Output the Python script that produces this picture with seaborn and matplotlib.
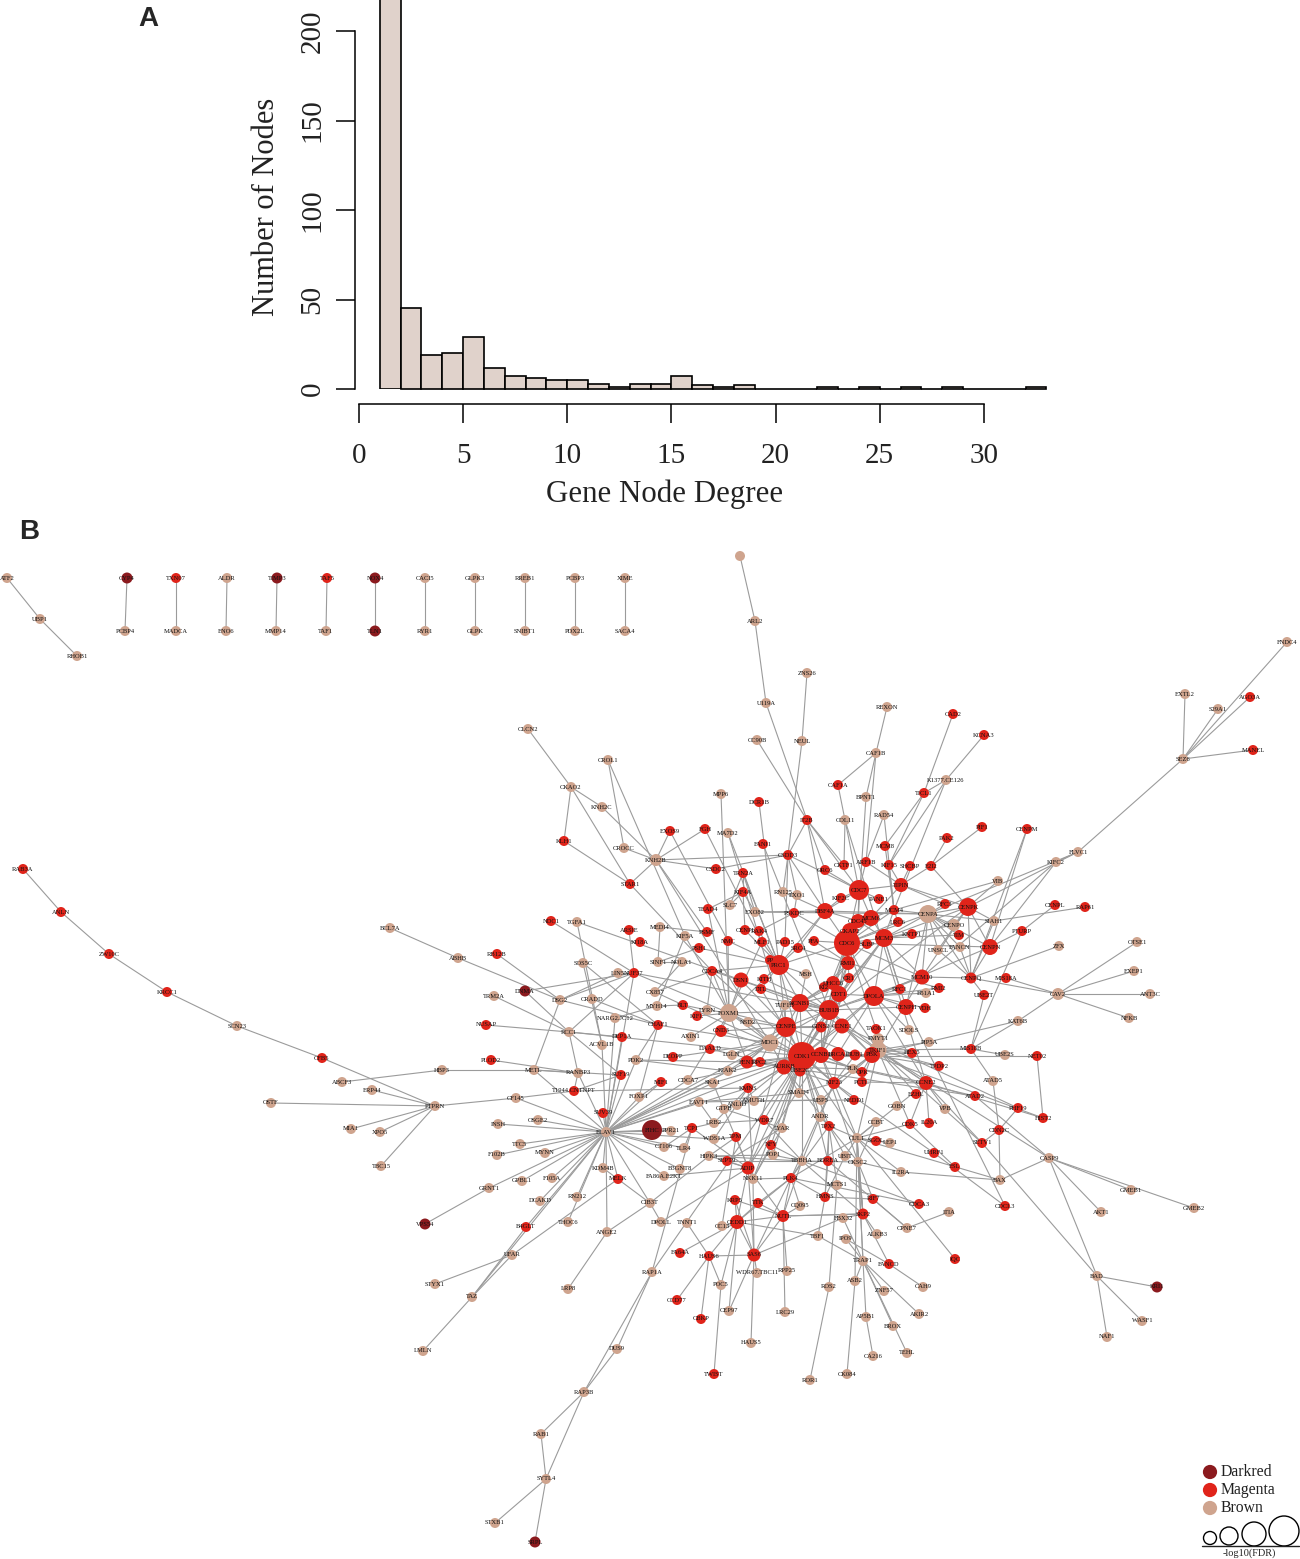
import pandas as pd
import numpy as np
import matplotlib
matplotlib.use('Agg')
import matplotlib.pyplot as plt
from matplotlib.collections import LineCollection
import seaborn as sns

# Panel A: degree histogram
degree_bins = list(range(1, 33))
degree_counts = [218, 45, 19, 20, 29, 12, 7, 6, 5, 5, 3, 1, 3, 3, 7, 2, 1, 2, 0, 0, 0, 1, 0, 1, 0, 1, 0, 1, 0, 0, 0, 1]
x_ticks = [0, 5, 10, 15, 20, 25, 30]
y_ticks = [0, 50, 100, 150, 200]

# Panel B: nodes, positions
magenta_genes = ['CENPK', 'CDC7', 'TIPIN', 'DBF4A', 'CDC45', 'MCM6', 'CKAP2', 'CDC6', 'SLBP', 'MCM3',
                 'CENPN', 'PRC1', 'RMI1', 'DSN1', 'MCM10', 'CENPQ', 'DHCC6', 'CDT1', 'DPOLA', 'NCNB1',
                 'BUB1B', 'CENPH', 'CENPE', 'GINS2', 'CCNE1', 'CND3', 'FEN1', 'AURKB', 'CDK1', 'CCNB1',
                 'BRCA1', 'BUB1', 'PBK', 'UBE2C', 'CCNE2', 'KIF23', 'ADIP', 'NUTL', 'CEDD1', 'SAS6', 'SKP2']
magenta_x = [968, 859, 901, 825, 858, 871, 850, 847, 867, 884,
             990, 779, 848, 741, 922, 971, 833, 839, 874, 800,
             829, 906, 786, 821, 842, 721, 747, 784, 802, 821,
             838, 855, 872, 800, 926, 834, 748, 783, 737, 754, 863]
magenta_y = [907, 890, 885, 911, 921, 918, 931, 943, 944, 938,
             947, 965, 963, 980, 977, 978, 983, 994, 996, 1003,
             1010, 1007, 1027, 1027, 1026, 1031, 1062, 1067, 1056, 1055,
             1054, 1055, 1055, 1071, 1083, 1083, 1168, 1216, 1222, 1255, 1214]
magenta_d = [18, 20, 14, 16, 14, 16, 16, 26, 10, 18,
             16, 20, 14, 15, 15, 11, 14, 16, 20, 18,
             20, 16, 20, 11, 15, 12, 13, 15, 28, 16,
             14, 11, 16, 11, 14, 12, 13, 12, 14, 13, 11]

small_red_genes = ['CSDC2', 'TRN2A', 'CSDD3', 'ORC6', 'CKTF1', 'ARF1B', 'KIF15', 'SHCBP', 'E2I2', 'KIF2C',
                   'PANE1', 'KIF4A', 'TEAD4', 'PSKDC', 'MCM4', 'RFC3', 'LRC6', 'PSMF', 'CENPI', 'RAK4',
                   'NMC', 'MLF1', 'PAD15', 'PFA', 'KNTP1', 'TIM', 'PSH1', 'SRC4', 'PP', 'CDCA4',
                   'KITH', 'MIS18A', 'CR1', 'KI2', 'DTL', 'RFC1', 'RMI2', 'BLT', 'KIFL', 'VDH',
                   'CHAF1', 'TAOK1', 'HEX5', 'DAALD', 'DEOPP', 'RPC2', 'MIF1', 'KMNS', 'OPK', 'PCTL',
                   'TPDP2', 'NEDD1', 'EZHL', 'WDR7', 'TPX2', 'CDK5', 'IL20A', 'TCP1', 'SGOL', 'UHRF1',
                   'TPM', 'NFY', 'SEPT9', 'BOREA', 'PLK4', 'HMNS', 'RIF7', 'CDCA3', 'KRP5', 'TTK',
                   'FA64A', 'HAUS6', 'FANCD', 'CCD77', 'CBKP', 'TWIST', 'IQC', 'CDCL3', 'ESL', 'SETV1',
                   'CDN2C', 'HIST2', 'PHF19', 'ATAD2', 'NET02', 'MIS18B', 'UBE2T', 'PTURP', 'CENPL', 'RAP61',
                   'CENPM', 'PIF1', 'PAK2', 'MCM8', 'IT2B', 'CAF1A', 'CAD2', 'KCNA3', 'TICL1', 'DCR1B',
                   'EXOS9', 'FGH', 'FANI1', 'KLH1', 'STAR1', 'AGO3A', 'MANEL', 'RAB3A', 'ANLN', 'ZW10C',
                   'KRCC1', 'CFB5', 'RB12B', 'NDC1', 'ARSIE', 'KI18A', 'NUF37', 'NUSAP', 'PLOD2', 'DEP1A',
                   'SUF19', 'T1944.CNTNPT', 'SUV39', 'MELK', 'B4GLT', 'TXN07', 'TAF5']
small_red_x = [716, 743, 788, 825, 844, 866, 889, 910, 931, 841,
               879, 743, 708, 794, 894, 945, 898, 707, 745, 759,
               728, 762, 785, 814, 912, 959, 699, 798, 770, 712,
               764, 1006, 849, 824, 761, 900, 939, 683, 697, 925,
               658, 876, 912, 710, 673, 760, 661, 748, 862, 862,
               939, 854, 916, 764, 829, 910, 929, 692, 876, 934,
               736, 771, 727, 828, 791, 825, 873, 919, 735, 758,
               680, 709, 889, 677, 701, 714, 955, 1005, 955, 982,
               999, 1043, 1018, 975, 1037, 971, 984, 1022, 1055, 1085,
               1027, 982, 947, 885, 807, 838, 953, 984, 924, 759,
               670, 705, 763, 564, 630, 1250, 1253, 23, 61, 109,
               167, 322, 497, 551, 629, 640, 634, 486, 491, 622,
               621, 574, 603, 618, 526, 176, 327]
small_red_y = [869, 873, 855, 870, 865, 862, 865, 866, 866, 898,
               899, 892, 909, 913, 910, 904, 922, 932, 930, 931,
               941, 942, 942, 941, 934, 935, 948, 948, 960, 971,
               979, 978, 978, 987, 989, 989, 988, 1005, 1016, 1008,
               1025, 1029, 1053, 1049, 1057, 1062, 1082, 1088, 1072, 1082,
               1066, 1100, 1094, 1120, 1126, 1124, 1123, 1128, 1141, 1153,
               1137, 1145, 1161, 1161, 1178, 1197, 1199, 1204, 1200, 1203,
               1253, 1256, 1264, 1300, 1319, 1374, 1259, 1206, 1167, 1143,
               1130, 1118, 1108, 1096, 1056, 1049, 995, 931, 905, 907,
               829, 827, 838, 846, 820, 785, 714, 735, 793, 802,
               831, 829, 844, 841, 884, 697, 750, 869, 912, 954,
               992, 1058, 954, 921, 930, 942, 973, 1025, 1060, 1037,
               1075, 1091, 1113, 1179, 1227, 578, 578]

brown_genes = ['ATF2', 'UBP1', 'RHOB1', 'ALDR', 'CACI5', 'GLPK3', 'RREB1', 'PCBP3', 'XIME', 'PCBP4',
               'MADCA', 'ENO6', 'MMP14', 'TAF1', 'RYR1', 'GLPK', 'SNIBT1', 'PDX2L', 'SACA4', 'SCN23',
               'ABCF3', 'ERP44', 'OSTF', 'MIA1', 'XPO5', 'TBC15', 'PTPRN', 'HBP3', 'BCL7A', 'ABHB',
               'TRM2A', 'DSG2', 'CRADD', 'SOS5C', 'TGFA1', 'LIN5', 'MEDI4', 'SINF1', 'CX857', 'MYH14',
               'NARG2.JC12', 'RCC1', 'ACVL1B', 'METL', 'RANBP3', 'CF145', 'FOXP1', 'PDK2', 'ELAV1', 'INSH',
               'OSGE2', 'TTC5', 'F102B', 'MYNN', 'KDM4B', 'F105A', 'GPBL1', 'GRNT1', 'DCAKD', 'RN212',
               'FA86A.E2KT', 'CIB3T', 'THOC6', 'ANGE2', 'DPOLL', 'UFAR', 'RAP1A', 'STYX1', 'TAZ', 'LRP8',
               'DUS9', 'LMLN', 'RAP3B', 'RAB1', 'SYTL4', 'STXB1', 'KNH2B', 'RN125', 'EXO1', 'SLC7',
               'EXO82', 'CENPA', 'KIF5A', 'CENPO', 'FANCN', 'UNSCL', 'NOLA1', 'MSH', 'TUF1B', 'LYRN',
               'FOXM1', 'NSD2', 'SDOLS', 'AXIN1', 'MDC1', 'LGLN', 'PMYT1', 'TKIF1', 'PIP5A', 'F2AK2',
               'CDCA7', 'SKA1', 'PLK', 'EAVT1', 'AMUTH', 'ANLID', 'GTPB', 'SMAD4', 'UBP5', 'GOBN',
               'VPB', 'ANDR', 'LYAR', 'LRB2', 'PPR21', 'CCBT', 'WDS1A', 'CUL1', 'LEP1', 'CT106',
               'TLR4', 'POP1', 'HIPK3', 'TBBHA', 'CKSC2', 'UBIT', 'NKK11', 'B3GNT8', 'IL2RA', 'MCTS1',
               'CC13', 'TNNT1', 'CQ095', 'FBX32', 'ALKB3', 'CPNE7', 'TBF1', 'IPO9', 'TRAP1', 'WDR67.TBC11',
               'RPP25', 'POC5', 'ROS2', 'ASB2', 'ZNF57', 'CAH9', 'CEP97', 'LRC29', 'AP5B1', 'AKIR2',
               'BROX', 'HAUS5', 'CA216', 'TEHL', 'CK084', 'ROR1', 'BAX', 'CASP9', 'AKT1', 'GMEB1',
               'GMEB2', 'BAD', 'WASF1', 'NAF1', 'ATAD5', 'UBE2S', 'KAT6B', 'CAV2', 'OTSE1', 'EXEP1',
               'ANT3C', 'NFKB', 'ZFX', 'SIAH1', 'KIFC2', 'FLVC1', 'VIB', 'RAD54', 'COL11', 'BPNT1',
               'CAF1B', 'REXON', 'K1377.CE126', 'U119A', 'ZNS26', 'ARL2', 'TOPN', 'CC90B', 'NEUL', 'MPP6',
               'MA7D2', 'CKAO2', 'CLCN2', 'CROL1', 'KNH2C', 'CROCC', 'SEZ6', 'EXTL2', 'S29A1', 'FNDC4',
               'ITIA', 'B51A1']
brown_x = [7, 40, 77, 227, 425, 475, 525, 575, 625, 125,
           176, 226, 276, 326, 425, 475, 525, 575, 625, 237,
           342, 372, 271, 351, 380, 381, 435, 442, 390, 458,
           494, 560, 592, 583, 577, 618, 660, 658, 655, 657,
           615, 569, 602, 534, 578, 516, 639, 636, 606, 498,
           538, 520, 497, 545, 603, 552, 522, 489, 540, 577,
           664, 650, 568, 607, 661, 512, 652, 435, 472, 568,
           617, 423, 584, 541, 546, 495, 656, 783, 797, 730,
           755, 928, 685, 954, 960, 938, 682, 806, 785, 707,
           729, 748, 909, 691, 770, 732, 878, 878, 929, 728,
           688, 713, 853, 699, 754, 737, 724, 799, 821, 897,
           945, 820, 782, 714, 671, 876, 714, 857, 890, 664,
           684, 773, 709, 802, 858, 845, 753, 680, 901, 837,
           722, 687, 800, 843, 877, 907, 818, 846, 863, 757,
           787, 721, 829, 855, 884, 923, 729, 785, 866, 919,
           893, 751, 873, 907, 847, 810, 1000, 1049, 1101, 1131,
           1194, 1097, 1142, 1107, 993, 1005, 1018, 1058, 1137, 1134,
           1150, 1129, 1059, 994, 1056, 1078, 998, 884, 845, 866,
           876, 887, 946, 766, 807, 755, 740, 757, 802, 721,
           728, 571, 528, 608, 602, 624, 1183, 1185, 1218, 1287,
           949, 926]
brown_y = [578, 619, 656, 578, 578, 578, 578, 578, 578, 631,
           631, 631, 631, 631, 631, 631, 631, 631, 631, 1026,
           1082, 1090, 1103, 1129, 1132, 1166, 1106, 1070, 928, 958,
           996, 1000, 999, 963, 922, 973, 927, 962, 992, 1006,
           1018, 1032, 1045, 1070, 1073, 1098, 1097, 1060, 1132, 1124,
           1120, 1144, 1155, 1153, 1168, 1178, 1181, 1188, 1201, 1197,
           1176, 1203, 1222, 1232, 1222, 1255, 1272, 1284, 1297, 1289,
           1349, 1351, 1392, 1434, 1479, 1523, 860, 892, 895, 905,
           912, 914, 936, 925, 947, 950, 962, 974, 1005, 1010,
           1013, 1022, 1030, 1037, 1043, 1055, 1039, 1050, 1042, 1071,
           1080, 1083, 1069, 1102, 1101, 1105, 1109, 1093, 1100, 1106,
           1109, 1117, 1128, 1123, 1131, 1122, 1139, 1138, 1143, 1147,
           1148, 1155, 1156, 1161, 1162, 1156, 1179, 1169, 1172, 1185,
           1226, 1223, 1206, 1218, 1234, 1228, 1236, 1239, 1261, 1273,
           1271, 1285, 1287, 1281, 1291, 1287, 1311, 1312, 1317, 1314,
           1326, 1343, 1356, 1353, 1374, 1380, 1180, 1158, 1212, 1190,
           1208, 1276, 1321, 1337, 1081, 1055, 1021, 994, 942, 971,
           994, 1018, 946, 921, 862, 852, 881, 815, 820, 797,
           753, 707, 780, 703, 673, 621, 556, 740, 741, 794,
           833, 787, 729, 760, 807, 848, 759, 694, 709, 642,
           1212, 993]
big_brown = {'CENPA': 18, 'FOXM1': 18, 'MDC1': 17, 'TKIF1': 17, 'PMYT1': 12, 'CENPO': 12, 'KNH2B': 12, 'CAV2': 12}
unlabelled = ['TOPN']

dark_genes = ['CYP4', 'TIMP3', 'NOX4', 'TLN1', 'FIHC', 'DNMA', 'VPS54', 'SRPL', 'KRI1']
dark_x = [127, 277, 375, 375, 652, 525, 425, 535, 1157]
dark_y = [578, 578, 578, 631, 1130, 991, 1224, 1542, 1287]
dark_d = [11, 11, 11, 11, 20, 11, 11, 11, 11]

# Edges, one hub and its neighbours per row
hub_edges = [
    ('UBP1', ['ATF2', 'RHOB1']),
    ('CYP4', ['PCBP4']), ('TXN07', ['MADCA']), ('ALDR', ['ENO6']), ('TIMP3', ['MMP14']), ('TAF5', ['TAF1']),
    ('NOX4', ['TLN1']), ('CACI5', ['RYR1']), ('GLPK3', ['GLPK']), ('RREB1', ['SNIBT1']), ('PCBP3', ['PDX2L']),
    ('XIME', ['SACA4']),
    ('ANLN', ['RAB3A', 'ZW10C']), ('KRCC1', ['ZW10C', 'SCN23']), ('CFB5', ['SCN23', 'PTPRN']),
    ('PTPRN', ['ERP44', 'OSTF', 'MIA1', 'XPO5', 'TBC15', 'CF145']),
    ('HBP3', ['ABCF3', 'METL']), ('ABHB', ['BCL7A', 'DSG2']),
    ('DSG2', ['RB12B', 'LIN5', 'NUF37', 'METL', 'CHAF1']),
    ('RCC1', ['TRM2A', 'NUSAP', 'RANBP3', 'NUF37', 'DNMA', 'DEP1A', 'SUF19', 'CDK1']),
    ('METL', ['RANBP3', 'SUF19', 'ELAV1']), ('RANBP3', ['PLOD2', 'ELAV1', 'T1944.CNTNPT']),
    ('NUF37', ['NDC1', 'LIN5', 'ELAV1', 'ARSIE', 'DNMA', 'FOXM1', 'BUB1B']),
    ('TGFA1', ['ACVL1B', 'DSN1']), ('SOS5C', ['CHAF1', 'ACVL1B']), ('CRADD', ['CHAF1']),
    ('NARG2.JC12', ['MYH14', 'ELAV1']), ('T1944.CNTNPT', ['CF145', 'SUF19', 'KMNS']),
    ('ELAV1', ['CF145', 'ACVL1B', 'DEP1A', 'SUF19', 'FOXP1', 'SUV39', 'INSH', 'OSGE2', 'TTC5', 'F102B',
               'MYNN', 'F105A', 'GPBL1', 'GRNT1', 'DCAKD', 'RN212', 'THOC6', 'ANGE2', 'KDM4B', 'B4GLT',
               'CIB3T', 'FIHC', 'PPR21', 'CT106', 'TLR4', 'WDS1A', 'FA86A.E2KT', 'B3GNT8', 'MELK', 'TAZ',
               'CDCA7', 'SKA1', 'MIF1', 'F2AK2', 'FEN1', 'CDK1', 'MDC1', 'PDK2', 'KMNS', 'EAVT1']),
    ('GRNT1', ['VPS54']), ('UFAR', ['MELK', 'STYX1', 'TAZ']), ('TAZ', ['B4GLT', 'LMLN']),
    ('ANGE2', ['LRP8', 'CIB3T']), ('CIB3T', ['KDM4B', 'DPOLL', 'HIPK3']),
    ('RAP3B', ['RAP1A', 'DUS9', 'RAB1', 'SYTL4']), ('RAP1A', ['DUS9', 'CDK1', 'TCP1']),
    ('SYTL4', ['STXB1', 'SRPL', 'RAB1']),
    ('ARL2', ['TOPN', 'U119A']), ('U119A', ['IT2B']), ('NEUL', ['ZNS26', 'CSDD3']), ('CC90B', ['IT2B']),
    ('IT2B', ['CSDD3', 'ORC6', 'CDC7', 'CKTF1', 'DBF4A']), ('CAF1B', ['REXON', 'CAF1A', 'BPNT1', 'ARF1B']),
    ('CAF1A', ['COL11']), ('COL11', ['CKTF1', 'CDC7']), ('BPNT1', ['CDC45']), ('RAD54', ['ARF1B']),
    ('TICL1', ['CAD2', 'KIF15', 'MCM8']), ('K1377.CE126', ['KCNA3', 'TICL1', 'KIF15', 'MCM4']),
    ('E2I2', ['PAK2', 'PIF1', 'CENPK']), ('CENPM', ['CENPQ', 'CENPN']), ('MPP6', ['FOXM1']),
    ('DCR1B', ['PRC1']), ('FANI1', ['BUB1B']), ('FGH', ['KNH2B', 'MLF1']), ('MA7D2', ['CENPE', 'PRC1']),
    ('EXOS9', ['KNH2B', 'NMC']), ('KNH2B', ['CSDD3', 'KNH2C', 'CROCC', 'PSMF', 'CSDC2', 'STAR1', 'MDC1']),
    ('CKAO2', ['CLCN2', 'KNH2C', 'KLH1', 'STAR1']), ('CROL1', ['CROCC', 'KIF5A']), ('STAR1', ['KLH1', 'CDCA4']),
    ('SEZ6', ['EXTL2', 'S29A1', 'AGO3A', 'MANEL', 'FNDC4', 'FLVC1']), ('FLVC1', ['KIFC2', 'CENPA', 'CENPK']),
    ('KIFC2', ['CENPN', 'MCM10']), ('VIB', ['CENPK', 'MCM4']), ('PTURP', ['CENPL', 'CENPN', 'MIS18B']),
    ('SIAH1', ['RAP61', 'CENPK', 'CENPA', 'CENPQ']), ('CAV2', ['OTSE1', 'EXEP1', 'ANT3C', 'NFKB', 'KAT6B', 'MIS18A', 'CENPQ']),
    ('ZFX', ['CENPQ']), ('KAT6B', ['MIS18B', 'PBK']), ('UBE2T', ['MIS18B', 'CENPQ']), ('UBE2S', ['MIS18B']),
    ('NET02', ['HIST2', 'CDK1']), ('HIST2', ['CCNE2', 'PBK']), ('ATAD5', ['MIS18B', 'CDN2C']), ('PHF19', ['CDN2C', 'CCNE1']),
    ('BAX', ['CDN2C', 'CASP9', 'CUL1', 'IL2RA']), ('CASP9', ['AKT1', 'GMEB1', 'GMEB2', 'BAD', 'ATAD2', 'TKIF1']),
    ('BAD', ['KRI1', 'WASF1', 'NAF1', 'SETV1']), ('SETV1', ['CCNE2', 'CDN2C']), ('ATAD2', ['AURKB', 'CDK1']),
    ('TRAP1', ['ASB2', 'ZNF57', 'AKIR2', 'BROX', 'AP5B1', 'TEHL', 'FBX32', 'CUL1', 'CKSC2', 'IPO9']),
    ('SKP2', ['FBX32', 'NUTL', 'CUL1', 'CKSC2', 'ALKB3', 'FANCD', 'TBBHA']), ('FANCD', ['CAH9', 'IPO9']),
    ('CA216', ['AP5B1']), ('CK084', ['ASB2']), ('ROR1', ['ROS2']), ('ROS2', ['MCTS1']), ('ASB2', ['CUL1']),
    ('TBF1', ['CEDD1', 'TRAP1', 'HMNS']), ('CPNE7', ['RIF7', 'BOREA', 'ITIA']), ('IQC', ['CUL1']), ('ESL', ['CDK5']),
    ('CDCL3', ['CENPH', 'UHRF1']), ('CDCA3', ['TBBHA']), ('IL2RA', ['CKSC2', 'CUL1']),
    ('SAS6', ['HAUS6', 'CEDD1', 'NUTL', 'ADIP', 'NKK11', 'PLK4', 'WDR67.TBC11', 'KRP5', 'FBX32', 'CEP97', 'HAUS5']),
    ('CEDD1', ['NUTL', 'ADIP', 'KRP5', 'TTK', 'HAUS6', 'POC5', 'CEP97', 'CC13', 'PLK4', 'FA64A']),
    ('NUTL', ['PLK4', 'TTK', 'KRP5', 'LRC29', 'RPP25', 'ADIP', 'SKP2', 'CQ095', 'TBBHA']),
    ('ADIP', ['NKK11', 'SEPT9', 'TPM', 'HIPK3', 'FA86A.E2KT', 'CDK1', 'TCP1', 'DPOLL', 'CENPE', 'CCNB1']),
    ('POC5', ['TWIST', 'HAUS6']), ('HAUS6', ['CCD77', 'CBKP', 'TNNT1']), ('CC13', ['TPM']),
    ('CDK1', ['CCNB1', 'BRCA1', 'BUB1B', 'AURKB', 'CENPE', 'NCNB1', 'MDC1', 'FEN1', 'CDT1', 'GINS2', 'CCNE1', 'PBK', 'CDC6',
              'DPOLA', 'KIF23', 'MCM3', 'CDCA7', 'LYAR', 'TPX2', 'SMAD4', 'UBP5', 'ANDR', 'NEDD1', 'CUL1', 'CCNE2',
              'FOXM1', 'KMNS', 'AMUTH', 'RPC2', 'NFY', 'POP1', 'WDR7', 'BOREA', 'TBBHA', 'PRC1', 'DTL', 'SKA1', 'CND3']),
    ('BUB1B', ['CDC6', 'NCNB1', 'CENPE', 'CCNB1', 'AURKB', 'DPOLA', 'CDT1', 'MCM3', 'RMI1', 'PRC1', 'FOXM1', 'MDC1', 'CDCA4',
               'DSN1', 'CENPH', 'MCM10', 'KITH', 'PBK', 'TKIF1', 'CENPK']),
    ('CDC6', ['CDC45', 'MCM6', 'CKAP2', 'MCM3', 'DBF4A', 'CDC7', 'RMI1', 'DPOLA', 'CDT1', 'MCM10', 'MCM4', 'SLBP', 'PFA', 'PRC1',
              'CENPA', 'CENPN', 'GINS2', 'TAOK1', 'PSKDC', 'LRC6']),
    ('MCM3', ['MCM6', 'MCM4', 'CDC45', 'DPOLA', 'MCM10', 'CENPA', 'CENPO', 'TIM', 'CDT1', 'CENPK', 'KNTP1', 'RFC1', 'CENPH']),
    ('DPOLA', ['CDT1', 'MCM10', 'CCNE1', 'RFC1', 'CENPH', 'BRCA1', 'CCNE2', 'SDOLS', 'RMI2', 'B51A1', 'CENPN', 'VDH']),
    ('CENPA', ['CENPK', 'CENPN', 'CENPO', 'CENPQ', 'MCM10', 'TIM', 'UNSCL', 'RFC3', 'FANCN', 'CENPH', 'DBF4A', 'EXO82']),
    ('CENPK', ['CENPN', 'CENPQ', 'CENPO', 'UNSCL', 'MCM10']), ('CENPQ', ['CENPN', 'MCM10', 'FANCN', 'UNSCL']),
    ('CENPE', ['NCNB1', 'AURKB', 'FOXM1', 'MDC1', 'CND3', 'GINS2', 'CCNE1', 'BUB1', 'PRC1', 'DSN1', 'FEN1', 'TUF1B', 'NSD2', 'LGLN']),
    ('AURKB', ['FEN1', 'UBE2C', 'NCNB1', 'MDC1', 'SMAD4', 'PLK', 'KIF23', 'KMNS', 'ANLID', 'DAALD']),
    ('FOXM1', ['PRC1', 'DSN1', 'CDCA4', 'LYRN', 'KIFL', 'NMC', 'CND3', 'MDC1', 'FEN1', 'NSD2', 'AXIN1', 'CDCA7', 'KIF5A', 'TEAD4', 'MLF1']),
    ('MDC1', ['FEN1', 'LGLN', 'RPC2', 'NSD2', 'TUF1B', 'BLT', 'CHAF1', 'F2AK2', 'DEOPP']),
    ('PBK', ['TKIF1', 'PMYT1', 'OPK', 'PCTL', 'HEX5', 'BRCA1', 'BUB1', 'PLK', 'UBP5', 'TPDP2', 'CCNE1']),
    ('TKIF1', ['PMYT1', 'HEX5', 'PIP5A', 'TPDP2', 'CDK5', 'MCM10', 'CCNE2', 'EZHL', 'KIF23', 'TAOK1', 'MIS18B', 'CDT1', 'SETV1', 'CUL1']),
    ('CCNE2', ['EZHL', 'CDK5', 'GOBN', 'IL20A', 'VPB', 'CCNE1', 'PCTL', 'COL11']),
    ('CUL1', ['SGOL', 'LEP1', 'CCBT', 'KIF23', 'TPX2', 'CDK5', 'SKP2', 'GOBN', 'UBIT']),
    ('KIF23', ['BRCA1', 'BUB1', 'CCNB1', 'PLK', 'CDCA4', 'SMAD4', 'UHRF1', 'ANDR']),
    ('PLK4', ['TTK', 'CDCA3', 'NKK11', 'CUL1', 'CQ095', 'HMNS', 'TPX2', 'TBBHA', 'KIF23']),
    ('TPX2', ['ANDR', 'BOREA', 'AURKB', 'MCTS1', 'UBIT']), ('HMNS', ['BOREA', 'TPX2', 'RIF7', 'UBIT']),
    ('TBBHA', ['NFY', 'POP1', 'CKSC2', 'BOREA', 'WDR7', 'ANDR']), ('CKSC2', ['RIF7', 'CCNB1', 'CCBT', 'SKP2', 'TPX2']),
    ('CDC7', ['DBF4A', 'CDC45', 'MCM6', 'TIPIN', 'KIF2C', 'PANE1', 'ARF1B', 'ORC6', 'CSDD3']),
    ('TIPIN', ['MCM6', 'KIF15', 'SHCBP', 'E2I2', 'RFC3', 'CENPK', 'ARF1B']), ('MCM4', ['MCM6', 'MCM8', 'LRC6', 'KIF15', 'CENPA', 'RAD54']),
    ('DBF4A', ['KIF2C', 'PRC1', 'PSKDC', 'SRC4', 'EXO82', 'RN125', 'CDC45']), ('CSDD3', ['CSDC2', 'EXO1', 'RN125', 'DBF4A', 'PAD15']),
    ('PRC1', ['PP', 'PAD15', 'MLF1', 'KITH', 'DTL', 'NMC', 'RAK4', 'SRC4', 'MSH', 'NCNB1', 'CDCA4', 'CENPI', 'PSH1', 'TRN2A']),
    ('NCNB1', ['TUF1B', 'CDT1', 'DHCC6', 'KI2', 'CCNE1', 'GINS2', 'DTL', 'CR1', 'MSH']),
    ('CCNB1', ['BRCA1', 'BUB1', 'CCNE1', 'GINS2', 'PLK', 'OPK', 'CDT1', 'DHCC6', 'CR1']),
    ('RMI1', ['DHCC6', 'PFA', 'SLBP', 'CR1', 'CDT1', 'RMI2', 'KI2', 'SRC4']),
    ('TRN2A', ['SLC7', 'KIF4A', 'EXO82']), ('KIF4A', ['TEAD4', 'EXO82', 'SLC7', 'CENPI']), ('PSKDC', ['EXO1', 'RAK4']),
    ('MEDI4', ['PSMF', 'SINF1']), ('CX857', ['BLT', 'CDCA4', 'NOLA1']), ('MYH14', ['BLT', 'KIF5A']), ('LYRN', ['BLT', 'CDCA4']),
    ('SINF1', ['NOLA1', 'PSH1']), ('PDK2', ['CHAF1', 'FEN1', 'F2AK2']), ('FOXP1', ['CHAF1', 'MIF1']),
    ('EAVT1', ['AMUTH', 'LRB2', 'SMAD4']), ('GTPB', ['AMUTH', 'LYAR']), ('AMUTH', ['UBP5', 'ANLID', 'NEDD1', 'KMNS']),
    ('LRB2', ['TCP1', 'WDR7', 'KMNS']), ('WDS1A', ['TPM', 'KMNS']), ('HIPK3', ['POP1', 'TBBHA', 'TPM']),
    ('SEPT9', ['TBBHA', 'LYAR']), ('TLR4', ['TCP1']), ('CT106', ['TCP1']), ('NKK11', ['LYAR', 'NFY', 'KMNS', 'CDK1', 'SKA1']),
]

module_colors = {'Darkred': '#8B1A1E', 'Magenta': '#E0241A', 'Brown': '#CFA48E'}

# Legend content
legend_names = ['Darkred', 'Magenta', 'Brown']
legend_x = [1210, 1210, 1210]
legend_y = [1472, 1490, 1508]
size_key_x = [1210, 1229, 1254, 1284]
size_key_y = [1538, 1536, 1534, 1531]
size_key_d = [13, 18, 24, 30]

brown_d = [big_brown.get(g, 10) for g in brown_genes]
nodes = pd.concat([
    pd.DataFrame({'gene': brown_genes, 'x': brown_x, 'y': brown_y, 'd': brown_d, 'module': 'Brown'}),
    pd.DataFrame({'gene': dark_genes, 'x': dark_x, 'y': dark_y, 'd': dark_d, 'module': 'Darkred'}),
    pd.DataFrame({'gene': small_red_genes, 'x': small_red_x, 'y': small_red_y, 'd': 10, 'module': 'Magenta'}),
    pd.DataFrame({'gene': magenta_genes, 'x': magenta_x, 'y': magenta_y, 'd': magenta_d, 'module': 'Magenta'}),
], ignore_index=True)
nodes['area'] = (nodes['d'] * 0.72) ** 2

sns.set_theme(style='white')
plt.rcParams['font.family'] = ['Liberation Serif', 'DejaVu Sans']
W, H = 1300, 1559
fig = plt.figure(figsize=(13, 15.59), dpi=100)

# Panel B sits on a full figure axes
ax_net = fig.add_axes([0, 0, 1, 1])
pos = nodes.set_index('gene')[['x', 'y']]
segments = []
for hub, others in hub_edges:
    for other in others:
        segments.append([pos.loc[hub].values, pos.loc[other].values])
ax_net.add_collection(LineCollection(segments, colors='#9b9b9b', linewidths=0.8, zorder=1))
sns.scatterplot(data=nodes, x='x', y='y', hue='module', palette=module_colors, size='area',
                sizes={a: a for a in nodes['area'].unique()}, linewidth=0, legend=False, ax=ax_net, zorder=2)
for row in nodes.itertuples():
    if row.gene not in unlabelled:
        ax_net.text(row.x, row.y, row.gene, fontsize=4.7, ha='center', va='center', color='#111111', zorder=3)

legend_df = pd.DataFrame({'x': legend_x, 'y': legend_y, 'module': legend_names})
sns.scatterplot(data=legend_df, x='x', y='y', hue='module', palette=module_colors, s=105, linewidth=0,
                legend=False, ax=ax_net, zorder=2)
for name, lx, ly in zip(legend_names, legend_x, legend_y):
    ax_net.text(lx + 11, ly, name, fontsize=11.3, va='center', color='#222222')
ax_net.scatter(size_key_x, size_key_y, s=[(d * 0.72) ** 2 for d in size_key_d], facecolors='none',
               edgecolors='black', linewidths=1.0)
ax_net.plot([1202, 1299], [1546, 1546], color='#222222', lw=1.0)
ax_net.text(1249, 1553, '-log10(FDR)', fontsize=7.4, ha='center', va='center', color='#222222')
ax_net.set_xlim(0, W)
ax_net.set_ylim(H, 0)
ax_net.axis('off')

ax_net.text(148, 19, 'A', fontsize=20, fontweight='bold', family='Liberation Sans', ha='center', va='center')
ax_net.text(29, 532, 'B', fontsize=20, fontweight='bold', family='Liberation Sans', ha='center', va='center')

# Panel A
x_left, x_right = 359, 1048
y_top, y_bot = 0, 389
ax = fig.add_axes([x_left / W, 1 - y_bot / H, (x_right - x_left) / W, (y_bot - y_top) / H])
ax.patch.set_alpha(0)
sns.histplot(x=degree_bins, weights=degree_counts, bins=list(range(1, 34)), color='#E0D2CB', alpha=1,
             edgecolor='black', linewidth=1.2, ax=ax)
for patch in ax.patches:
    patch.set_clip_on(False)
    if patch.get_height() > 217:
        patch.set_clip_on(True)
ax.set_xlim(0, (x_right - x_left) / 20.83)
ax.set_ylim(0, 389 / 1.79)
for side in ['top', 'right']:
    ax.spines[side].set_visible(False)
ax.spines['left'].set_position(('outward', 3))
ax.spines['left'].set_bounds(0, 200)
ax.spines['bottom'].set_position(('outward', 11))
ax.spines['bottom'].set_bounds(0, 30)
for side in ['left', 'bottom']:
    ax.spines[side].set_color('black')
    ax.spines[side].set_linewidth(1.1)
ax.set_xticks(x_ticks)
ax.set_yticks(y_ticks)
ax.tick_params(axis='x', bottom=True, color='black', width=1.1, length=14, labelsize=21, pad=14, labelcolor='#222222')
ax.tick_params(axis='y', left=True, color='black', width=1.1, length=14, labelsize=21, pad=7, labelcolor='#222222')
plt.setp(ax.get_yticklabels(), rotation=90, va='center')
ax.set_xlabel('Gene Node Degree', fontsize=22.2, color='#222222', va='center')
ax.set_ylabel('Number of Nodes', fontsize=22, color='#222222', va='center')
ax.xaxis.set_label_coords((665 - x_left) / (x_right - x_left), -(494 - y_bot) / (y_bot - y_top))
ax.yaxis.set_label_coords(-(359 - 266) / (x_right - x_left), (389 - 207) / 389)

fig.savefig('out.png', dpi=100)
